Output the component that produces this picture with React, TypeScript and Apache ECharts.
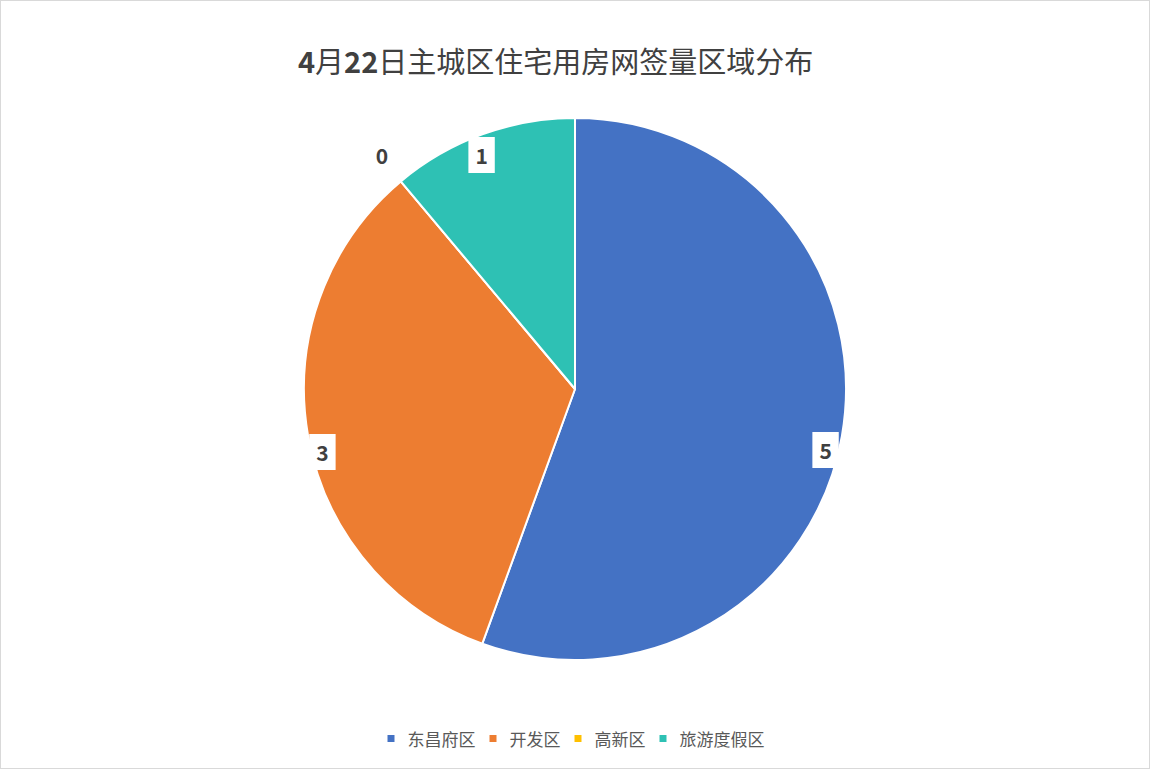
import React, { useEffect, useRef } from 'react';
import * as echarts from 'echarts';

const categories = ['东昌府区', '开发区', '高新区', '旅游度假区'];
const values = [5, 3, 0, 1];
const colors = ['#4472C4', '#ED7D31', '#FFC000', '#2EC1B4'];

// small nudges so labels sit roughly where Excel's best fit put them
const labelDx = [-4, 2, -27, -5];
const labelDy = [16, 18, -36, 9];

const FONT = '"Noto Sans CJK SC", "Noto Sans", sans-serif';

export default function App() {
  const chartRef = useRef<HTMLDivElement>(null);

  useEffect(() => {
    document.body.style.margin = '0';
    if (!chartRef.current) return;
    const chart = echarts.init(chartRef.current, undefined, { renderer: 'svg' });

    const center = [574, 388];

    const option: echarts.EChartsOption = {
      animation: false,
      backgroundColor: '#ffffff',
      color: colors,
      title: {
        text: '{b|4}{n|月}{b|22}{n|日主城区住宅用房网签量区域分布}',
        left: 297,
        top: 44,
        padding: 0,
        textStyle: {
          rich: {
            b: { fontFamily: FONT, fontSize: 29, fontWeight: 'bold', color: '#404040' },
            n: { fontFamily: FONT, fontSize: 29, fontWeight: 'normal', color: '#404040' },
          },
        },
      },
      legend: {
        data: categories,
        left: 'center',
        top: 724,
        icon: 'rect',
        itemWidth: 9,
        itemHeight: 9,
        itemGap: 12,
        textStyle: {
          fontFamily: FONT,
          fontSize: 17,
          color: '#595959',
          padding: [0, 0, 0, 7],
        },
      },
      series: [
        {
          type: 'pie',
          center,
          radius: 271,
          startAngle: 90,
          clockwise: true,
          silent: true,
          label: { show: false },
          labelLine: { show: false },
          itemStyle: { borderColor: '#ffffff', borderWidth: 2 },
          data: categories.map((name, i) => ({ name, value: values[i] })),
        },
        {
          type: 'pie',
          center,
          radius: [240, 271],
          startAngle: 90,
          clockwise: true,
          silent: true,
          itemStyle: { color: 'transparent' },
          labelLine: { show: false },
          label: {
            show: true,
            position: 'inside',
            formatter: '{c}',
            fontFamily: FONT,
            fontSize: 21,
            fontWeight: 'bold',
            lineHeight: 21,
            color: '#404040',
            backgroundColor: '#ffffff',
            padding: [8, 7, 7, 7],
          },
          labelLayout: (p: any) => ({
            dx: labelDx[p.dataIndex],
            dy: labelDy[p.dataIndex],
          }),
          data: categories.map((name, i) => ({
            name,
            value: values[i],
            label: values[i] === 0 ? { backgroundColor: 'transparent' } : undefined,
          })),
        },
      ],
    };

    chart.setOption(option);
    return () => {
      chart.dispose();
    };
  }, []);

  return (
    <div
      style={{
        width: 1150,
        height: 769,
        border: '1px solid #d9d9d9',
        boxSizing: 'border-box',
        background: '#fff',
      }}
    >
      <div ref={chartRef} style={{ width: 1148, height: 767 }} />
    </div>
  );
}
